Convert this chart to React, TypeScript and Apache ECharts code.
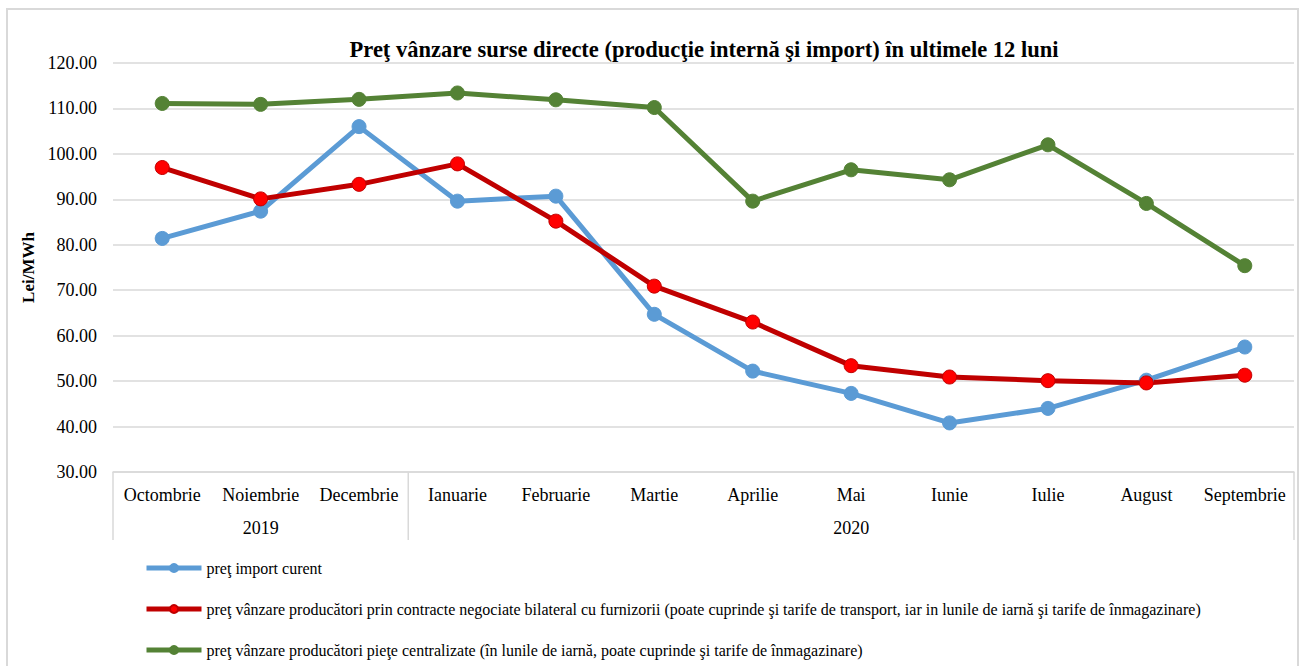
import React, { useEffect, useRef } from "react";
import * as echarts from "echarts";

const months = ["Octombrie", "Noiembrie", "Decembrie", "Ianuarie", "Februarie", "Martie", "Aprilie", "Mai", "Iunie", "Iulie", "August", "Septembrie"];
const years = ["2019", "2019", "2019", "2020", "2020", "2020", "2020", "2020", "2020", "2020", "2020", "2020"];
const importCurent = [81.4, 87.4, 106.0, 89.6, 90.7, 64.7, 52.2, 47.3, 40.8, 44.0, 50.2, 57.5];
const contracteBilaterale = [97.0, 90.1, 93.3, 97.8, 85.2, 70.9, 63.0, 53.4, 50.9, 50.1, 49.6, 51.3];
const pieteCentralizate = [111.1, 110.9, 112.0, 113.4, 111.9, 110.2, 89.6, 96.5, 94.3, 102.0, 89.1, 75.4];
const seriesNames = [
  "preţ import curent",
  "preţ vânzare producători prin contracte negociate bilateral cu furnizorii (poate cuprinde şi tarife de transport, iar in lunile de iarnă şi tarife de înmagazinare)",
  "preţ vânzare producători pieţe centralizate (în lunile de iarnă, poate cuprinde şi tarife de înmagazinare)",
];
const title = "Preţ vânzare surse directe (producţie internă şi import) în ultimele 12 luni";
const yName = "Lei/MWh";

const FONT = "'Liberation Serif', 'Times New Roman', serif";
const GRID = "#d9d9d9";

export default function App() {
  const ref = useRef<HTMLDivElement>(null);
  useEffect(() => {
    if (!ref.current) return;
    const chart = echarts.init(ref.current, null, { renderer: "svg" });
    const mk = (name: string, data: number[], line: string, fill: string, border: string) => ({
      name,
      type: "line",
      data,
      symbol: "circle",
      symbolSize: 14,
      lineStyle: { color: line, width: 5 },
      itemStyle: { color: fill, borderColor: border, borderWidth: 1 },
      emphasis: { disabled: true },
    });
    chart.setOption({
      animation: false,
      textStyle: { fontFamily: FONT },
      title: {
        text: title,
        left: 699,
        textAlign: "center",
        top: 33,
        textStyle: { fontFamily: FONT, fontWeight: "bold", fontSize: 22.5, color: "#000" },
      },
      grid: { left: 113, right: 8, top: 63, bottom: 194 },
      xAxis: [
        {
          type: "category",
          data: months,
          axisLine: { lineStyle: { color: GRID, width: 1.5 } },
          axisTick: { show: false },
          axisLabel: { fontFamily: FONT, fontSize: 18, color: "#000", margin: 14, interval: 0 },
        },
      ],
      yAxis: {
        type: "value",
        min: 30,
        max: 120,
        interval: 10,
        name: yName,
        nameLocation: "middle",
        nameGap: 70,
        nameTextStyle: { fontFamily: FONT, fontWeight: "bold", fontSize: 17, color: "#000" },
        axisLine: { show: false },
        axisTick: { show: false },
        splitLine: { lineStyle: { color: GRID, width: 1.5 } },
        axisLabel: { fontFamily: FONT, fontSize: 18, color: "#000", margin: 16, formatter: (v: number) => v.toFixed(2) },
      },
      legend: {
        orient: "vertical",
        left: 144,
        top: 560,
        height: 104,
        padding: 0,
        itemWidth: 55,
        itemHeight: 10,
        itemGap: 25,
        lineStyle: { width: 5 },
        textStyle: { fontFamily: FONT, fontSize: 16, color: "#000" },
        data: seriesNames,
      },
      series: [
        mk(seriesNames[0], importCurent, "#5B9BD5", "#5B9BD5", "#5B9BD5"),
        mk(seriesNames[1], contracteBilaterale, "#C00000", "#FF0000", "#C00000"),
        mk(seriesNames[2], pieteCentralizate, "#548235", "#548235", "#548235"),
      ],
    });

    // category group boxes (year labels) computed from axis scale
    const half = (chart.convertToPixel({ xAxisIndex: 0 }, months[1]) as number) - (chart.convertToPixel({ xAxisIndex: 0 }, months[0]) as number);
    const yBottom = chart.convertToPixel({ yAxisIndex: 0 }, 30) as number;
    const groups: { year: string; first: number; last: number }[] = [];
    years.forEach((y, i) => {
      const g = groups[groups.length - 1];
      if (g && g.year === y) g.last = i;
      else groups.push({ year: y, first: i, last: i });
    });
    const elements: any[] = [
      { type: "rect", shape: { x: 7, y: 9, width: 1291, height: 680 }, style: { fill: "none", stroke: GRID, lineWidth: 2 }, silent: true },
    ];
    const boundaries: number[] = [];
    groups.forEach((g, gi) => {
      const x0 = (chart.convertToPixel({ xAxisIndex: 0 }, months[g.first]) as number) - half / 2;
      const x1 = (chart.convertToPixel({ xAxisIndex: 0 }, months[g.last]) as number) + half / 2;
      if (gi === 0) boundaries.push(x0);
      boundaries.push(x1);
      elements.push({
        type: "text",
        x: (x0 + x1) / 2,
        y: yBottom + 56,
        style: { text: g.year, fontFamily: FONT, fontSize: 18, fill: "#000", align: "center", verticalAlign: "middle" },
        silent: true,
      });
    });
    boundaries.forEach((bx) => {
      elements.push({ type: "line", shape: { x1: bx, y1: yBottom, x2: bx, y2: yBottom + 68 }, style: { stroke: GRID, lineWidth: 1.5 }, silent: true });
    });
    chart.setOption({ graphic: elements });
    return () => chart.dispose();
  }, []);
  return <div ref={ref} style={{ position: "fixed", left: 0, top: 0, width: 1302, height: 666, background: "#fff" }} />;
}
